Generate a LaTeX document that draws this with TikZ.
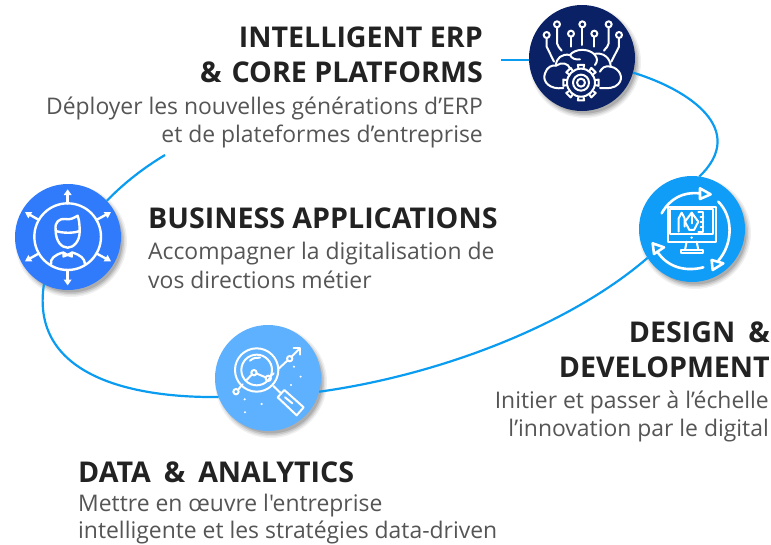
\documentclass[tikz,border=0pt]{standalone}
\usepackage{fontspec}
\setmainfont{Open Sans}[Ligatures=TeXOff]
\usetikzlibrary{arrows.meta}
\definecolor{navy}{HTML}{0A2265}
\definecolor{skyb}{HTML}{0F9DF8}
\definecolor{lightb}{HTML}{5EB1FF}
\definecolor{royal}{HTML}{2F7BFB}
\definecolor{linkb}{HTML}{0A9CF0}
\definecolor{titlec}{HTML}{222222}
\definecolor{subc}{HTML}{555555}
\tikzset{
 disc/.style={circle,fill=#1,minimum size=106pt,inner sep=0pt,outer sep=0pt},
 link/.style={draw=linkb,line width=2.2pt},
 ttl/.style={text=titlec,font=\fontsize{28.6}{32}\selectfont\bfseries,inner sep=0pt},
 sub/.style={text=subc,font=\fontsize{22.9}{27}\selectfont,inner sep=0pt},
 ico/.style={draw=white,line width=2pt,line cap=round,line join=round},
 zoomed/.style={shift={(#1)},x=0.3333pt,y=-0.3333pt},
}
\newcommand{\softshadow}[2]{%
 \foreach \r/\o in {56/0.06,54.5/0.08,53/0.10,51.5/0.12}{\fill[black,opacity=\o] (#1+3,#2+4) circle[radius=\r pt];}}
\begin{document}
\begin{tikzpicture}[x=1pt,y=-1pt]
\useasboundingbox (0,0) rectangle (771,544);
\fill[white] (0,0) rectangle (771,544);
\softshadow{582}{58}\softshadow{692}{229}\softshadow{268}{378}\softshadow{68}{237}
\node[disc=navy] (erp) at (582,58) {};
\node[disc=skyb] (dev) at (692,229) {};
\node[disc=lightb] (data) at (268,378) {};
\node[disc=royal] (biz) at (68,237) {};
\coordinate (erpstart) at (501,60);
\coordinate (bizend) at (165,155);
% connectors
\draw[link] (erpstart) -- (erp.west |- erpstart) ;
\draw[link] (erp.-16) .. controls (690,90) and (748,130) .. (dev.82);
\draw[link] (dev.213) .. controls (570,325) and (440,375) .. (data.-15);
\draw[link] (data.201) .. controls (130,398) and (30,375) .. (biz.-117);
\draw[link] (biz.43) .. controls (125,182) and (145,167) .. (bizend);
% texts
\node[ttl,anchor=base east] (t1a) at (483,47) {INTELLIGENT ERP};
\node[ttl,anchor=base east] (t1b) at (483,82) {\&\hspace{10pt}CORE PLATFORMS};
\node[sub,anchor=base east] (s1a) at (483,114) {Déployer les nouvelles générations d’ERP};
\node[sub,anchor=base east] (s1b) at (483,142) {et de plateformes d’entreprise};
\node[ttl,anchor=base west] (t2) at (148,228) {BUSINESS APPLICATIONS};
\node[sub,anchor=base west] (s2a) at (148,259) {Accompagner la digitalisation de};
\node[sub,anchor=base west] (s2b) at (148,288) {vos directions métier};
\node[ttl,anchor=base east] (t3a) at (770,342) {DESIGN\hspace{13pt}\&};
\node[ttl,anchor=base east] (t3b) at (770,377) {DEVELOPMENT};
\node[sub,anchor=base east] (s3a) at (769,408) {Initier et passer à l’échelle};
\node[sub,anchor=base east] (s3b) at (769,436) {l’innovation par le digital};
\node[ttl,anchor=base west] (t4) at (78,482) {DATA\hspace{13pt}\&\hspace{13pt}ANALYTICS};
\node[sub,anchor=base west] (s4a) at (78,511) {Mettre en œuvre l'entreprise};
\node[sub,anchor=base west] (s4b) at (78,538) {intelligente et les stratégies data-driven};
% ERP icon
\begin{scope}[zoomed={520,0}]
\foreach \px/\py in {111/73,187/73,266/73,80/105,153/101,223/101,297/105}{\draw[ico] (\px,\py) circle[radius=9];}
\draw[ico] (111,83) -- (111,130) .. controls (111,140) and (120,142) .. (125,152);
\draw[ico] (80,115) -- (80,140) -- (102,185);
\draw[ico] (187,83) -- (187,135);
\draw[ico] (153,111) -- (153,140);
\draw[ico] (223,111) -- (223,140);
\draw[ico] (266,83) -- (266,130) .. controls (266,140) and (258,142) .. (252,152);
\draw[ico] (297,115) -- (297,140) -- (274,185);
\draw[ico] (130,264) .. controls (90,270) and (65,245) .. (75,220) .. controls (82,200) and (95,195) .. (108,197) .. controls (108,175) and (125,160) .. (150,165) .. controls (165,145) and (205,145) .. (222,162) .. controls (250,155) and (272,175) .. (272,200) .. controls (300,205) and (312,235) .. (295,252) .. controls (285,264) and (265,266) .. (240,264);
\draw[ico] (108,197) .. controls (125,185) and (145,190) .. (150,205);
\draw[ico] (222,162) .. controls (235,175) and (232,185) .. (225,195);
\draw[ico] (272,200) .. controls (255,195) and (245,205) .. (240,215);
\draw[ico] (150,165) .. controls (155,175) and (165,180) .. (180,178);
\fill[navy] (183,248) circle[radius=52];
\foreach \a in {0,45,...,315}{\draw[ico] ([shift={(\a-10:44)}]183,248) -- ([shift={(\a-10:54)}]183,248) -- ([shift={(\a+10:54)}]183,248) -- ([shift={(\a+10:44)}]183,248);}
\draw[ico] (183,248) circle[radius=42];
\draw[ico] (183,248) circle[radius=24];
\draw[ico] (183,248) circle[radius=12];
\end{scope}
% Design icon
\begin{scope}[zoomed={630,170}]
\draw[ico,line width=2.6pt] (95,130) .. controls (120,85) and (160,65) .. (208,70);
\draw[ico,line width=2.6pt] (210,55) -- (242,73) -- (210,87) -- cycle;
\draw[ico,line width=2.6pt] (265,95) .. controls (310,140) and (310,220) .. (265,272);
\draw[ico,line width=2.6pt] (245,270) -- (280,280) -- (248,300) -- cycle;
\draw[ico,line width=2.6pt] (220,292) .. controls (170,305) and (115,295) .. (82,245);
\draw[ico,line width=2.6pt] (68,220) -- (102,232) -- (72,252) -- cycle;
\draw[ico] (113,110) rectangle (257,215);
\draw[ico] (120,118) rectangle (250,192);
\draw[ico] (170,215) -- (165,240);
\draw[ico] (200,215) -- (205,240);
\draw[ico] (152,248) rectangle (218,240);
\fill[white] (185,203) circle[radius=4];
\draw[ico] (185,128) -- (165,155) -- (178,180) -- (192,180) -- (205,155) -- cycle;
\draw[ico] (185,128) -- (185,160);
\draw[ico] (146,185) -- (146,145) -- (155,128) -- (164,145) -- (164,170);
\draw[ico] (205,125) -- (220,125) -- (220,185) -- (205,185);
\draw[ico] (212,140) -- (220,140) (212,155) -- (220,155) (212,170) -- (220,170);
\end{scope}
% Data icon
\begin{scope}[zoomed={205,320}]
\draw[ico] (155,150) circle[radius=65];
\draw[ico] (155,150) circle[radius=46];
\draw[ico] (135,122) .. controls (145,113) and (155,112) .. (165,113);
\draw[ico] (100,208) -- (113,193);
\draw[ico] (125,180) -- (139,165);
\draw[ico] (153,160) -- (182,172);
\draw[ico] (197,168) -- (206,160);
\draw[ico] (222,145) -- (247,122);
\draw[ico] (260,110) -- (284,86);
\draw[ico] (266,84) -- (286,84) -- (286,104);
\foreach \px/\py in {93/215,147/158,190/175,254/116}{\draw[ico] (\px,\py) circle[radius=8];}
\draw[ico] (205,198) -- (228,220);
\draw[ico] (218,232) -- (238,210) -- (296,262) -- (275,286) -- cycle;
\draw[ico] (240,232) -- (262,250);
\foreach \px/\py in {267/140,287/170,258/195,119/238,170/252,120/277}{\fill[white] (\px,\py) circle[radius=3.5];}
\end{scope}
% Business icon
\begin{scope}[zoomed={5,175}]
\draw[ico,line width=2.4pt] (188,185) circle[radius=100];
\draw[ico,line width=2.4pt] (188,85) -- (188,55) (188,285) -- (188,318);
\draw[ico,line width=2.4pt] (102,135) -- (72,118) (274,135) -- (305,118) (102,235) -- (72,252) (274,235) -- (305,252);
\fill[white] (176,60) -- (188,43) -- (200,60) -- cycle;
\fill[white] (176,314) -- (188,331) -- (200,314) -- cycle;
\fill[white] (60,111) -- (82,111) -- (70,130) -- cycle;
\fill[white] (318,111) -- (296,111) -- (308,130) -- cycle;
\fill[white] (60,259) -- (82,259) -- (70,240) -- cycle;
\fill[white] (318,259) -- (296,259) -- (308,240) -- cycle;
\draw[ico,line width=2.4pt] (152,165) .. controls (148,140) and (165,130) .. (180,132) .. controls (195,135) and (205,130) .. (218,122) .. controls (222,135) and (224,145) .. (224,170) .. controls (224,200) and (205,218) .. (188,218) .. controls (170,218) and (152,200) .. (152,165) -- cycle;
\draw[ico,line width=2.4pt] (152,168) .. controls (175,175) and (205,175) .. (224,168);
\draw[ico,line width=2.4pt] (138,268) .. controls (135,250) and (150,240) .. (172,233) -- (188,240) -- (204,233) .. controls (225,240) and (240,250) .. (240,268);
\draw[ico] (175,232) -- (188,240) -- (175,245) -- cycle;
\draw[ico] (201,232) -- (188,240) -- (201,245) -- cycle;
\end{scope}
\end{tikzpicture}
\end{document}
